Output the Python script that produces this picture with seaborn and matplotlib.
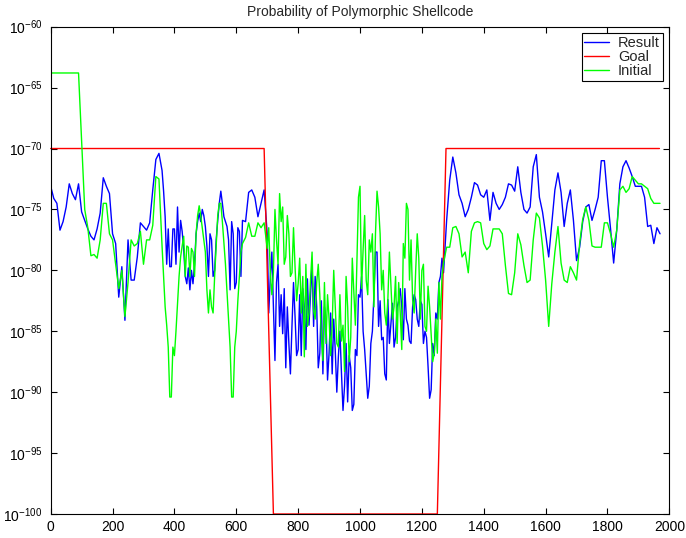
import numpy as np
import pandas as pd
import matplotlib
matplotlib.use('Agg')
import matplotlib.pyplot as plt
import seaborn as sns
from matplotlib.ticker import LogFormatterSciNotation, FixedLocator

# generation index: every 10th sample, plus in-between samples where the
# curves are very noisy
steps = np.arange(0, 1980, 10)
half_steps = np.concatenate([np.arange(365, 620, 10), np.arange(705, 1270, 10)])

# log10 of probability
result_exp = [
    -73.1, -74.1, -74.5, -76.7, -76.0, -74.8, -72.9, -73.7, -74.2, -72.9,
    -75.2, -75.9, -76.6, -77.2, -77.5, -76.6, -75.3, -72.4, -73.1, -73.7,
    -77.0, -77.8, -82.2, -79.7, -84.1, -77.5, -80.8, -80.8, -78.9, -76.1,
    -76.4, -76.7, -76.1, -73.4, -70.9, -70.4, -71.8, -75.6, -76.6, -79.7,
    -76.6, -74.8, -75.9, -78.3, -81.1, -81.6, -81.1, -77.0, -75.3, -75.0,
    -76.4, -80.5, -77.5, -80.0, -75.9, -73.5, -75.6, -76.4, -81.6, -77.0,
    -81.0, -76.8, -75.9, -76.0, -73.6, -73.4, -74.0, -75.6, -74.5, -73.4,
    -77.0, -80.5, -83.0, -81.0, -84.6, -85.2, -88.0, -86.0, -84.6, -83.8,
    -86.5, -87.0, -83.0, -80.7, -82.0, -84.6, -83.0, -86.8, -88.5, -84.0,
    -86.8, -88.5, -86.6, -87.1, -88.4, -89.5, -90.8, -88.0, -91.0, -87.0,
    -82.2, -85.0, -88.5, -89.5, -85.0, -78.5, -84.6, -85.7, -88.5, -82.4,
    -84.3, -86.3, -83.0, -81.5, -85.7, -84.0, -85.8, -83.0, -82.4, -84.6,
    -82.8, -85.0, -87.9, -89.8, -87.0, -84.0, -80.5, -80.2, -75.9, -72.6,
    -70.7, -72.0, -73.8, -74.5, -75.6, -75.0, -74.0, -72.8, -73.0, -73.8,
    -74.0, -73.4, -75.9, -73.6, -74.5, -75.0, -74.6, -74.0, -72.9, -73.0,
    -73.5, -71.5, -73.6, -75.0, -75.3, -74.8, -71.5, -70.5, -74.0, -75.2,
    -77.0, -78.9, -76.1, -73.4, -72.0, -73.6, -76.4, -74.5, -73.4, -75.9,
    -79.2, -78.1, -76.0, -74.8, -74.6, -75.9, -75.0, -74.0, -71.0, -71.0,
    -74.0, -76.6, -79.4, -76.7, -72.9, -71.5, -71.0, -71.6, -72.3, -73.1,
    -73.1, -73.1, -74.0, -76.4, -76.3, -77.8, -76.5, -77.0,
]
result_half_exp = [
    -73.5, -79.5, -79.7, -76.6, -79.5, -78.5, -76.8, -80.5, -79.8, -80.0,
    -79.5, -76.0, -76.0, -75.5, -78.0, -77.0, -80.5, -77.5, -74.5, -74.5,
    -76.0, -77.5, -76.0, -81.5, -76.5, -80.5,
    -83.5, -78.5, -87.4, -79.5, -82.0, -81.5, -83.0, -88.5, -81.0, -87.0,
    -82.0, -81.5, -86.5, -84.5, -79.5, -80.5, -88.0, -82.5, -83.0, -89.0,
    -83.5, -84.0, -90.0, -85.0, -91.5, -86.0, -87.0, -91.5, -86.5,
    -82.0, -80.5, -86.5, -90.5, -86.0, -82.0, -78.5, -82.5, -85.5, -89.0,
    -86.0, -82.7, -85.5, -82.5, -83.0, -81.5, -84.5, -86.0, -82.0, -84.0,
    -82.5, -86.0, -85.5, -90.5, -86.0, -83.5, -81.0, -79.0,
]

initial_exp = [
    -63.8, -63.8, -63.8, -63.8, -63.8, -63.8, -63.8, -63.8, -63.8, -63.8,
    -69.5, -75.0, -76.5, -78.8, -78.7, -79.0, -77.5, -74.5, -74.5, -77.0,
    -77.5, -79.5, -81.5, -80.0, -83.8, -81.0, -77.5, -78.0, -77.8, -76.8,
    -79.5, -77.5, -77.5, -76.3, -72.3, -72.5, -78.0, -83.0, -86.3, -90.4,
    -87.0, -82.7, -78.9, -77.2, -78.0, -80.5, -78.5, -77.0, -74.7, -76.5,
    -78.5, -83.5, -83.0, -80.5, -75.5, -74.5, -77.8, -81.8, -86.3, -90.4,
    -85.0, -80.5, -77.8, -77.3, -76.1, -77.2, -77.2, -76.1, -76.5, -76.1,
    -78.2, -80.2, -80.2, -77.5, -73.7, -74.8, -78.9, -77.0, -80.2, -79.7,
    -81.1, -83.5, -87.1, -84.6, -80.8, -83.3, -81.0, -82.0, -87.4, -86.0,
    -84.0, -84.6, -83.0, -86.3, -85.8, -88.3, -83.0, -85.5, -81.8, -79.4,
    -73.1, -78.3, -80.8, -77.5, -77.0, -77.0, -74.8, -81.6, -83.5, -82.4,
    -81.3, -83.0, -86.0, -83.5, -77.8, -74.5, -80.8, -82.4, -80.0, -79.0,
    -80.0, -84.6, -81.3, -85.3, -86.8, -86.8, -84.0, -79.4, -78.1, -78.1,
    -76.5, -76.4, -77.0, -78.9, -78.5, -80.2, -76.8, -76.1, -76.0, -76.1,
    -77.8, -78.3, -78.0, -76.6, -76.6, -76.6, -77.0, -79.6, -81.9, -82.0,
    -80.2, -77.0, -77.9, -79.6, -81.0, -80.8, -77.5, -75.3, -75.7, -78.0,
    -80.8, -84.6, -81.1, -78.5, -76.4, -79.4, -80.8, -81.0, -79.7, -80.2,
    -80.8, -77.8, -75.8, -74.8, -75.9, -78.0, -78.1, -78.1, -78.1, -76.1,
    -76.1, -77.0, -78.1, -76.7, -73.4, -73.1, -73.6, -73.3, -72.3, -72.6,
    -72.9, -72.9, -73.1, -73.3, -74.1, -74.5, -74.5, -74.5,
]
initial_half_exp = [
    -80.5, -84.5, -90.4, -86.3, -85.0, -80.5, -78.0, -80.5, -78.1, -78.2,
    -80.5, -75.5, -75.5, -77.5, -81.6, -81.6, -83.5, -78.0, -74.5, -76.0,
    -79.5, -84.0, -90.4, -86.3, -82.5, -78.5,
    -76.5, -82.0, -75.0, -79.5, -76.0, -79.5, -75.5, -80.5, -76.5, -82.5,
    -79.0, -80.5, -79.5, -83.5, -78.5, -84.0, -79.5, -85.5, -81.0, -82.0,
    -87.0, -80.0, -86.0, -82.0, -84.5, -80.5, -87.5, -79.0, -84.5,
    -74.0, -81.5, -75.5, -82.0, -78.5, -83.0, -73.5, -77.0, -80.0, -84.5,
    -78.5, -84.0, -80.5, -81.0, -86.5, -79.0, -75.0, -77.5, -83.5, -77.0,
    -84.0, -79.5, -85.0, -83.0, -87.5, -84.0, -81.0, -80.5,
]

goal_steps = [0, 690, 720, 1250, 1278, 1968]
goal_exp = [-70, -70, -100, -100, -70, -70]

assert len(result_exp) == len(steps) == len(initial_exp)
assert len(result_half_exp) == len(half_steps) == len(initial_half_exp)

sns.set_style('ticks')
plt.rcParams['font.family'] = ['Liberation Sans', 'DejaVu Sans']
plt.rcParams['mathtext.default'] = 'regular'

fig = plt.figure(figsize=(6.86, 5.38), dpi=100)
ax = fig.add_axes([0.0739, 0.0446, 0.9018, 0.9058])

df = pd.DataFrame({
    'x': np.concatenate([steps, half_steps]),
    'result': 10.0 ** np.array(result_exp + result_half_exp),
    'initial': 10.0 ** np.array(initial_exp + initial_half_exp),
}).sort_values('x')
goal = pd.DataFrame({'x': goal_steps, 'y': 10.0 ** np.array(goal_exp, dtype=float)})

sns.lineplot(data=df, x='x', y='result', color='#0000ff', lw=1.0, label='Result', ax=ax)
sns.lineplot(data=goal, x='x', y='y', color='#ff0000', lw=1.0, label='Goal', ax=ax, clip_on=False)
sns.lineplot(data=df, x='x', y='initial', color='#00ff00', lw=1.0, label='Initial', ax=ax)

ax.set_yscale('log')
ax.set_xlim(0, 2000)
ax.set_ylim(1e-100, 1e-60)
ax.set_xticks(range(0, 2001, 200))
ax.yaxis.set_major_locator(FixedLocator([10.0 ** e for e in range(-100, -59, 5)]))
ax.yaxis.set_major_formatter(LogFormatterSciNotation())
ax.yaxis.set_minor_locator(FixedLocator([]))
ax.set_xlabel('')
ax.set_ylabel('')
ax.tick_params(direction='in', length=4.5, width=0.8, top=True, right=True,
               labelsize=10, colors='black')
ax.tick_params(axis='x', pad=4.5)
ax.tick_params(axis='y', pad=6)
for s in ax.spines.values():
    s.set_linewidth(0.8)
    s.set_color('black')

ax.set_title('Probability of Polymorphic Shellcode', fontsize=10, pad=8)

leg = ax.legend(loc='upper right', fontsize=10.5, frameon=True, fancybox=False,
                framealpha=1, edgecolor='black', borderpad=0.2, labelspacing=0.0,
                handlelength=1.7, handletextpad=0.6, borderaxespad=0.45)
leg.get_frame().set_linewidth(0.8)

fig.savefig('out.png', dpi=100)
